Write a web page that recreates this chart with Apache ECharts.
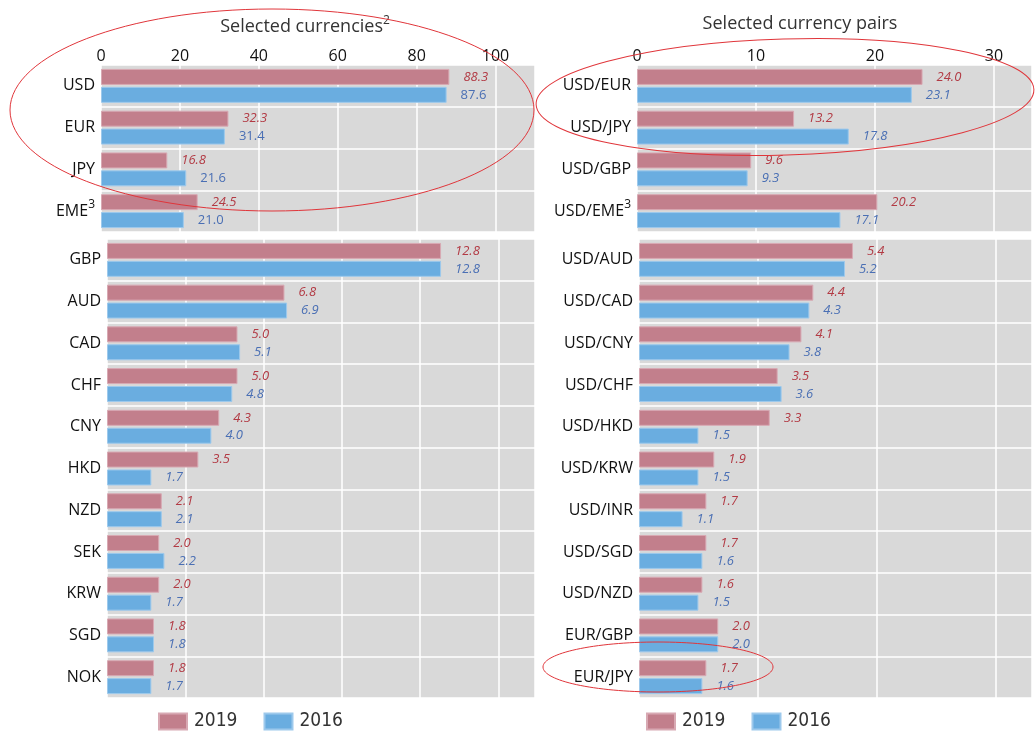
<!DOCTYPE html>
<html>
<head>
<meta charset="utf-8">
<script src="https://cdn.jsdelivr.net/npm/echarts@6/dist/echarts.min.js"></script>
<style>
    html, body { margin: 0; padding: 0; background: #ffffff; }
    #chart { width: 1035px; height: 733px; }
</style>
</head>
<body>
<div id="chart"></div>
<script>
// currencies (left side)
var topCurrencies = ['USD', 'EUR', 'JPY', 'EME'];
var topCurrencies2019 = [88.3, 32.3, 16.8, 24.5];
var topCurrencies2016 = [87.6, 31.4, 21.6, 21.0];

var otherCurrencies = ['GBP', 'AUD', 'CAD', 'CHF', 'CNY', 'HKD', 'NZD', 'SEK', 'KRW', 'SGD', 'NOK'];
var otherCurrencies2019 = [12.8, 6.8, 5.0, 5.0, 4.3, 3.5, 2.1, 2.0, 2.0, 1.8, 1.8];
var otherCurrencies2016 = [12.8, 6.9, 5.1, 4.8, 4.0, 1.7, 2.1, 2.2, 1.7, 1.8, 1.7];

// currency pairs (right side)
var topPairs = ['USD/EUR', 'USD/JPY', 'USD/GBP', 'USD/EME'];
var topPairs2019 = [24.0, 13.2, 9.6, 20.2];
var topPairs2016 = [23.1, 17.8, 9.3, 17.1];

var otherPairs = ['USD/AUD', 'USD/CAD', 'USD/CNY', 'USD/CHF', 'USD/HKD', 'USD/KRW', 'USD/INR', 'USD/SGD', 'USD/NZD', 'EUR/GBP', 'EUR/JPY'];
var otherPairs2019 = [5.4, 4.4, 4.1, 3.5, 3.3, 1.9, 1.7, 1.7, 1.6, 2.0, 1.7];
var otherPairs2016 = [5.2, 4.3, 3.8, 3.6, 1.5, 1.5, 1.1, 1.6, 1.5, 2.0, 1.6];

var yearNames = ['2019', '2016'];

var FONT = 'Open Sans';
var LEGEND_FONT = "'DejaVu Sans Condensed', 'Liberation Sans Narrow', Roboto";
var PINK = '#c27f8c';
var BLUE = '#6aade0';
var RED_LABEL = '#b23a44';
var BLUE_LABEL = '#4a6fb4';

var chart = echarts.init(document.getElementById('chart'));

function xAxisFor(gridIndex, max, interval, showLabels){
    return {
        type: 'value',
        gridIndex: gridIndex,
        position: 'top',
        min: 0,
        max: max,
        interval: interval,
        axisLine: { show: false },
        axisTick: { show: false },
        axisLabel: {
            show: showLabels,
            showMaxLabel: false,
            margin: 1,
            color: '#111',
            fontSize: 16,
            fontFamily: FONT
        },
        splitLine: { show: true, lineStyle: { color: '#ffffff', width: 1.5 } }
    };
}

function yAxisFor(gridIndex, cats){
    return {
        type: 'category',
        gridIndex: gridIndex,
        data: cats,
        inverse: true,
        axisLine: { show: false },
        axisTick: { show: false },
        axisLabel: {
            margin: 6,
            color: '#111',
            fontSize: 16,
            fontFamily: FONT,
            formatter: function(v){
                if (v.indexOf('EME') >= 0) return '{n|' + v + '}{s|3}';
                return '{n|' + v + '}';
            },
            rich: {
                n: { fontSize: 16, fontFamily: FONT, color: '#111' },
                s: { fontSize: 12, fontFamily: FONT, color: '#111', padding: [0, 0, 14, 0] }
            }
        },
        splitLine: { show: true, lineStyle: { color: '#ffffff', width: 1.5 } }
    };
}

function barSeries(name, idx, data, color, border, labelColor, italic){
    return {
        name: name,
        type: 'bar',
        xAxisIndex: idx,
        yAxisIndex: idx,
        data: data,
        barWidth: 16,
        barGap: '12%',
        itemStyle: { color: color, borderColor: border, borderWidth: 1 },
        label: {
            show: true,
            position: 'right',
            distance: 14,
            color: labelColor,
            fontSize: 13,
            fontStyle: italic ? 'italic' : 'normal',
            fontFamily: FONT,
            formatter: function(p){ return p.value.toFixed(1); }
        }
    };
}

function legendAt(left){
    return {
        left: left, top: 712,
        padding: 0,
        data: yearNames,
        itemWidth: 28, itemHeight: 16, itemGap: 26,
        icon: 'rect',
        textStyle: { fontSize: 19, lineHeight: 16, color: '#333', fontFamily: LEGEND_FONT, padding: [0, 0, 0, 2] }
    };
}

chart.setOption({
    animation: false,
    title: [
        {
            text: 'Selected currencies{s|2}',
            left: 300, top: 10, textAlign: 'center',
            textStyle: {
                fontSize: 18, fontWeight: 'normal', color: '#333', fontFamily: FONT,
                rich: { s: { fontSize: 12, color: '#333', fontFamily: FONT, padding: [0, 0, 12, 0] } }
            }
        },
        {
            text: 'Selected currency pairs',
            left: 795, top: 10, textAlign: 'center',
            textStyle: { fontSize: 18, fontWeight: 'normal', color: '#333', fontFamily: FONT }
        }
    ],
    legend: [legendAt(158), legendAt(646)],
    grid: [
        { left: 101, top: 65, width: 434, height: 167, show: true, backgroundColor: '#d9d9d9', borderWidth: 0 },
        { left: 107, top: 239, width: 428, height: 459, show: true, backgroundColor: '#d9d9d9', borderWidth: 0 },
        { left: 637, top: 65, width: 395, height: 167, show: true, backgroundColor: '#d9d9d9', borderWidth: 0 },
        { left: 639, top: 239, width: 393, height: 459, show: true, backgroundColor: '#d9d9d9', borderWidth: 0 }
    ],
    xAxis: [
        xAxisFor(0, 110, 20, true),
        xAxisFor(1, 16.4, 3, false),
        xAxisFor(2, 33.2, 10, true),
        xAxisFor(3, 9.92, 3, false)
    ],
    yAxis: [
        yAxisFor(0, topCurrencies),
        yAxisFor(1, otherCurrencies),
        yAxisFor(2, topPairs),
        yAxisFor(3, otherPairs)
    ],
    series: [
        barSeries(yearNames[0], 0, topCurrencies2019, PINK, '#d8a9b3', RED_LABEL, true),
        barSeries(yearNames[1], 0, topCurrencies2016, BLUE, '#9dc9ec', BLUE_LABEL, false),
        barSeries(yearNames[0], 1, otherCurrencies2019, PINK, '#d8a9b3', RED_LABEL, true),
        barSeries(yearNames[1], 1, otherCurrencies2016, BLUE, '#9dc9ec', BLUE_LABEL, true),
        barSeries(yearNames[0], 2, topPairs2019, PINK, '#d8a9b3', RED_LABEL, true),
        barSeries(yearNames[1], 2, topPairs2016, BLUE, '#9dc9ec', BLUE_LABEL, true),
        barSeries(yearNames[0], 3, otherPairs2019, PINK, '#d8a9b3', RED_LABEL, true),
        barSeries(yearNames[1], 3, otherPairs2016, BLUE, '#9dc9ec', BLUE_LABEL, true)
    ],
    // red hand-drawn highlight rings
    graphic: [
        { type: 'ellipse', z: 100, silent: true, shape: { cx: 272, cy: 110, rx: 262, ry: 101 },
          style: { fill: null, stroke: '#e0353a', lineWidth: 1 } },
        { type: 'ellipse', z: 100, silent: true, shape: { cx: 785, cy: 97, rx: 249, ry: 58 },
          rotation: 0.03, originX: 785, originY: 97,
          style: { fill: null, stroke: '#e0353a', lineWidth: 1 } },
        { type: 'ellipse', z: 100, silent: true, shape: { cx: 658, cy: 667, rx: 115, ry: 25 },
          style: { fill: null, stroke: '#e0353a', lineWidth: 1 } }
    ]
});
</script>
</body>
</html>
